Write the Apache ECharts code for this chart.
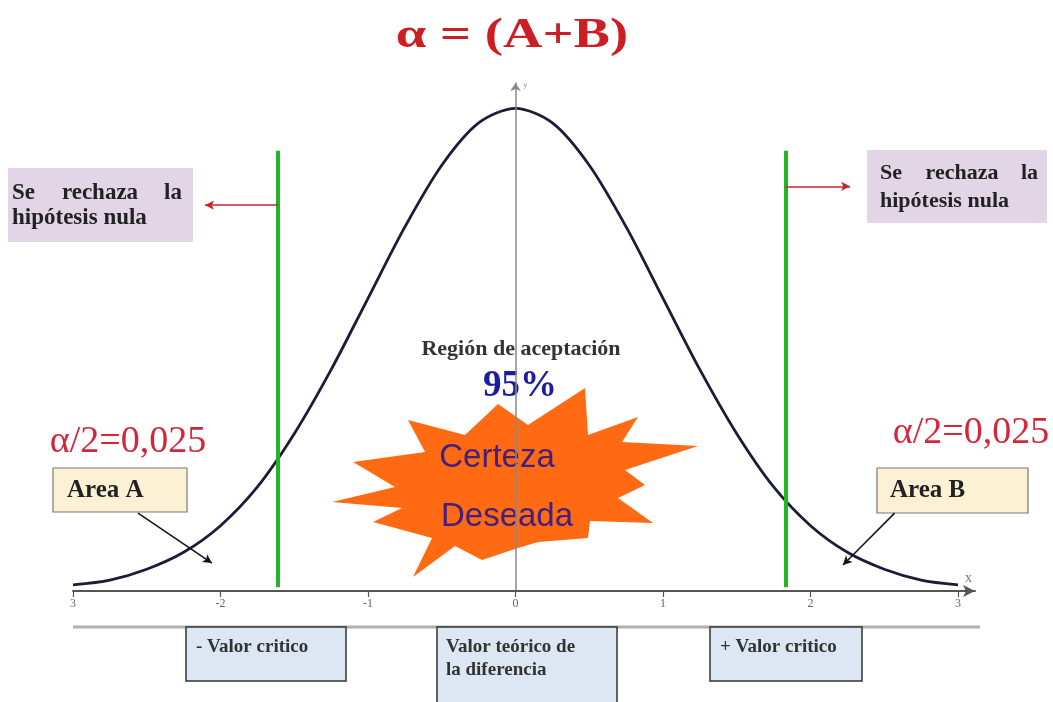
<!DOCTYPE html>
<html>
<head>
<meta charset="utf-8">
<script src="https://cdn.jsdelivr.net/npm/echarts@6/dist/echarts.min.js"></script>
<style>html,body{margin:0;padding:0;background:#fff;}#c{width:1053px;height:702px;}</style>
</head>
<body>
<div id="c"></div>
<script>
// ---- data ----
const xValues = [-3,-2.75,-2.5,-2.25,-2,-1.75,-1.5,-1.25,-1,-0.75,-0.5,-0.25,0,0.25,0.5,0.75,1,1.25,1.5,1.75,2,2.25,2.5,2.75,3];
const curveValues = [0.005,0.009,0.018,0.032,0.054,0.086,0.130,0.183,0.242,0.301,0.352,0.387,0.399,0.387,0.352,0.301,0.242,0.183,0.130,0.086,0.054,0.032,0.018,0.009,0.005];
const tickValues = [-3,-2,-1,0,1,2,3];
const tickLabels = ['3','-2','-1','0','1','2','3'];
const criticalValues = [-1.61, 1.83];

const chart = echarts.init(document.getElementById('c'), null, {renderer:'canvas'});
const serif = '"Liberation Serif","DejaVu Serif",serif';
const sans = '"Liberation Sans",Arial,sans-serif';

function txt(x, y, text, font, fill, align, z, sx) {
  return {type:'text', x:x, y:y, z: z||5, silent:true, scaleX: sx||1,
    style:{text:text, font:font, fill:fill, align:align||'left', verticalAlign:'middle'}};
}
function box(x, y, w, h, fill, stroke, lw) {
  return {type:'rect', z:4, silent:true, shape:{x:x, y:y, width:w, height:h},
    style:{fill:fill, stroke:stroke||null, lineWidth:lw||0}};
}

const starPts = [[585,388],[588,435],[638,417],[622,442],[698,446],[625,470],[645,485],[618,498],[653,523],[590,521],[588,538],[538,542],[518,548],[482,560],[455,546],[413,577],[432,538],[373,522],[402,508],[332,502],[395,487],[353,462],[425,452],[408,420],[465,435],[498,404],[528,425]];

const option = {
  animation:false,
  backgroundColor:'#ffffff',
  grid:{left:73, right:78, top:83, bottom:111},
  xAxis:{
    type:'value', min:-3, max:3.115, z:6,
    name:'x', nameLocation:'end', nameGap:-10,
    nameTextStyle:{color:'#777', fontFamily:serif, fontSize:14, verticalAlign:'bottom', padding:[0,0,6,0]},
    axisLine:{show:true, onZero:false, symbol:['none','arrow'], symbolSize:[9,12], lineStyle:{color:'#555', width:2}},
    axisTick:{show:true, customValues:tickValues, length:6, lineStyle:{color:'#555', width:1.2}},
    axisLabel:{show:true, customValues:tickValues, margin:7, color:'#666', fontFamily:serif, fontSize:12,
      formatter:function(v){const i=tickValues.indexOf(v); return i>=0?tickLabels[i]:'';}},
    splitLine:{show:false}
  },
  yAxis:{
    type:'value', min:0, max:0.42, z:6,
    name:'y', nameLocation:'end', nameGap:-6,
    nameTextStyle:{color:'#999', fontSize:7, align:'left', padding:[0,0,0,8]},
    axisLine:{show:true, onZero:true, symbol:['none','arrow'], symbolSize:[8,8], lineStyle:{color:'#888', width:1.5}},
    axisTick:{show:false}, axisLabel:{show:false}, splitLine:{show:false}
  },
  series:[{
    type:'line', z:3,
    data:xValues.map((x,i)=>[x, curveValues[i]]),
    smooth:0.3, showSymbol:false, symbol:'none',
    lineStyle:{color:'#1c1c38', width:2.8},
    markLine:{
      silent:true, animation:false, label:{show:false},
      data:[
        [{coord:[criticalValues[0],0.003], symbol:'none', lineStyle:{color:'#23b523', width:4, type:'solid'}},
         {coord:[criticalValues[0],0.364], symbol:'none'}],
        [{coord:[criticalValues[1],0.003], symbol:'none', lineStyle:{color:'#23b523', width:4, type:'solid'}},
         {coord:[criticalValues[1],0.364], symbol:'none'}],
        [{coord:[criticalValues[0],0.319], symbol:'none', lineStyle:{color:'#c3262e', width:1.5, type:'solid'}},
         {coord:[-2.105,0.319], symbol:'arrow', symbolSize:[7,9]}],
        [{coord:[criticalValues[1],0.3346], symbol:'none', lineStyle:{color:'#c3262e', width:1.5, type:'solid'}},
         {coord:[2.268,0.3346], symbol:'arrow', symbolSize:[7,9]}],
        [{coord:[-2.559,0.0644], symbol:'none', lineStyle:{color:'#111', width:1.5, type:'solid'}},
         {coord:[-2.058,0.0231], symbol:'arrow', symbolSize:[7,9]}],
        [{coord:[2.57,0.0644], symbol:'none', lineStyle:{color:'#111', width:1.5, type:'solid'}},
         {coord:[2.22,0.0215], symbol:'arrow', symbolSize:[7,9]}]
      ]
    }
  }],
  graphic:[
    // title
    txt(512, 36, 'α = (A+B)', 'bold 43px '+serif, '#cc1f24', 'center', 5, 1.27),
    // rejection boxes
    box(8, 168, 185, 74, '#e2d6e6'),
    txt(12, 193, 'Se', 'bold 23px '+serif, '#222', 'left'),
    txt(100, 193, 'rechaza', 'bold 23px '+serif, '#222', 'center'),
    txt(182, 193, 'la', 'bold 23px '+serif, '#222', 'right'),
    txt(12, 218, 'hipótesis nula', 'bold 23px '+serif, '#222', 'left'),
    box(867, 150, 180, 73, '#e2d6e6'),
    txt(880, 173, 'Se', 'bold 22px '+serif, '#222', 'left'),
    txt(962, 173, 'rechaza', 'bold 22px '+serif, '#222', 'center'),
    txt(1038, 173, 'la', 'bold 22px '+serif, '#222', 'right'),
    txt(880, 201, 'hipótesis nula', 'bold 22px '+serif, '#222', 'left'),
    // alpha/2 labels
    txt(128, 442, 'α/2=0,025', '38px '+serif, '#d3263a', 'center'),
    txt(971, 433, 'α/2=0,025', '38px '+serif, '#d3263a', 'center'),
    // area boxes
    box(53, 468, 134, 44, '#fcf1d4', '#777', 1.2),
    txt(67, 491, 'Area A', 'bold 25px '+serif, '#222', 'left'),
    box(877, 468, 151, 45, '#fcf1d4', '#777', 1.2),
    txt(890, 491, 'Area B', 'bold 25px '+serif, '#222', 'left'),
    // starburst
    {type:'polygon', z:2, silent:true, shape:{points:starPts}, style:{fill:'#ff6a12'}},
    txt(497, 458, 'Certeza', '33px '+sans, '#43207e', 'center'),
    txt(507, 517, 'Deseada', '33px '+sans, '#43207e', 'center'),
    txt(521, 349, 'Región de aceptación', 'bold 22px '+serif, '#333', 'center', 2),
    txt(520, 386, '95%', 'bold 37px '+serif, '#1c1ca0', 'center', 2),
    // bottom line and value boxes
    {type:'line', z:3, silent:true, shape:{x1:73, y1:627, x2:980, y2:627}, style:{stroke:'#b0b0b0', lineWidth:3}},
    box(186, 627, 160, 54, '#dce7f3', '#333', 1.5),
    txt(196, 647, '- Valor critico', 'bold 19px '+serif, '#333', 'left'),
    box(437, 627, 180, 76, '#dce7f3', '#333', 1.5),
    txt(446, 647, 'Valor teórico de', 'bold 19px '+serif, '#333', 'left'),
    txt(446, 670, 'la diferencia', 'bold 19px '+serif, '#333', 'left'),
    box(710, 627, 152, 54, '#dce7f3', '#333', 1.5),
    txt(720, 647, '+ Valor critico', 'bold 19px '+serif, '#333', 'left')
  ]
};
chart.setOption(option);
</script>
</body>
</html>
